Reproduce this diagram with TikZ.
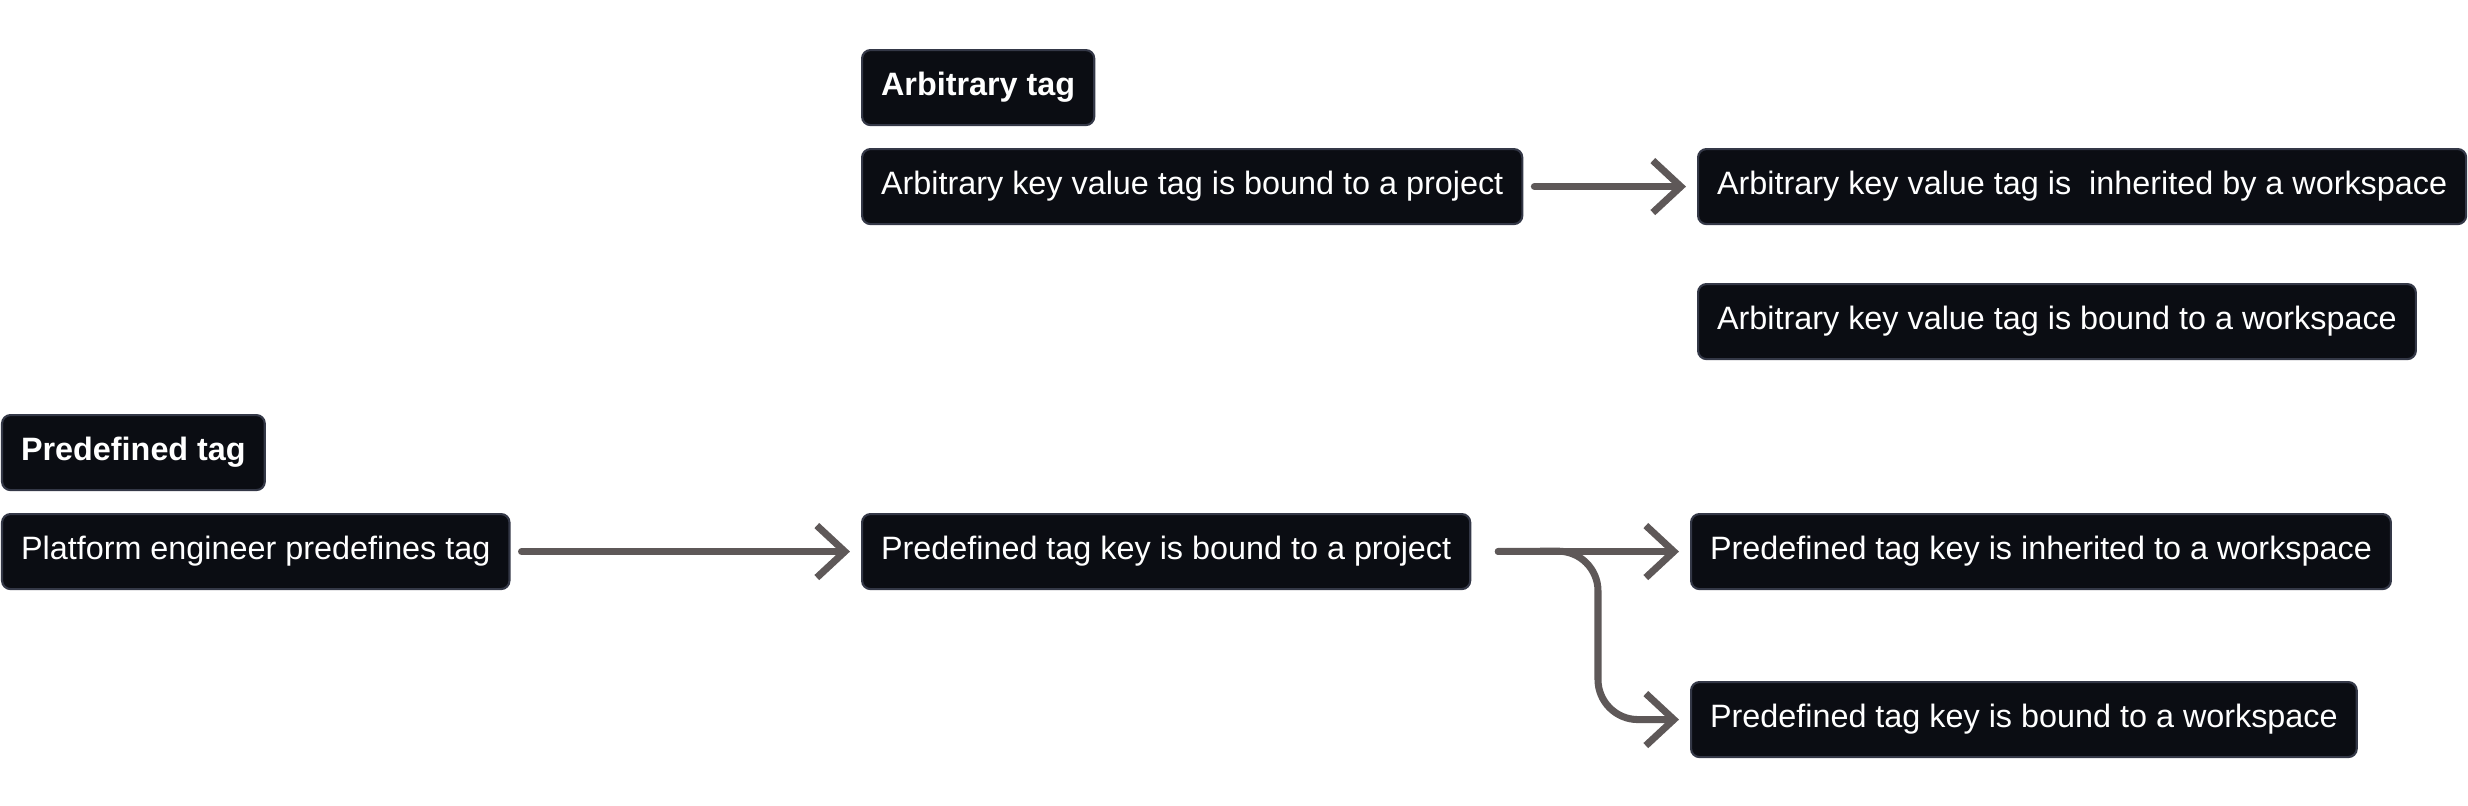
\documentclass[tikz,border=0pt]{standalone}
\usepackage{fontspec}
\setmainfont{Liberation Sans}
\usetikzlibrary{arrows.meta}
\definecolor{tagfill}{HTML}{0B0D13}
\definecolor{tagline}{HTML}{343847}
\definecolor{flowgray}{HTML}{5E5858}
\tikzset{
	tagbox/.style={draw=tagline, fill=tagfill, text=white, line width=0.6pt, rounded corners=2.4pt, anchor=north west, minimum height=0.75cm, inner xsep=0.19cm, inner ysep=0pt, font=\fontsize{9.2}{11}\selectfont},
	taghead/.style={tagbox, font=\fontsize{9.2}{11}\selectfont\bfseries},
	flow/.style={draw=flowgray, line width=2pt, line cap=round, line join=round, -{Straight Barb[length=0.28cm, width=0.52cm]}, shorten <=0.11cm, shorten >=0.11cm}
}

\begin{document}
\begin{tikzpicture}[x=0.01cm, y=-0.01cm]
			%%%%% START %%%%%
			\useasboundingbox (0, 0) rectangle (2468, 806);
			
			% arbitrary tags
			\node[taghead] (arbTag) at (861, 49) {Arbitrary tag};
			\node[tagbox] (arbProj) at (861, 148) {Arbitrary key value tag is bound to a project};
			\node[tagbox] (arbInh) at (1697, 148) {Arbitrary key value tag is~ inherited by a workspace};
			\node[tagbox] (arbWs) at (1697, 283) {Arbitrary key value tag is bound to a workspace};
			
			% predefined tags
			\node[taghead] (preTag) at (1, 414) {Predefined tag};
			\node[tagbox] (platform) at (1, 513) {Platform engineer predefines tag};
			\node[tagbox] (preProj) at (861, 513) {Predefined tag key is bound to a project};
			\node[tagbox] (preInh) at (1690, 513) {Predefined tag key is inherited to a workspace};
			\node[tagbox] (preWs) at (1690, 681) {Predefined tag key is bound to a workspace};
			
			\coordinate (fork) at (1598, 551);
			
			\draw[flow] (arbProj) -- (arbInh);
			\draw[flow] (platform) -- (preProj);
			\draw[flow, shorten <=0.27cm] (preProj) -- (preInh);
			\draw[flow, shorten <=0.27cm, rounded corners=0.4cm] (preProj.east) -- (fork) |- (preWs.west);
			
			%%%%% END %%%%%
\end{tikzpicture}
\end{document}
